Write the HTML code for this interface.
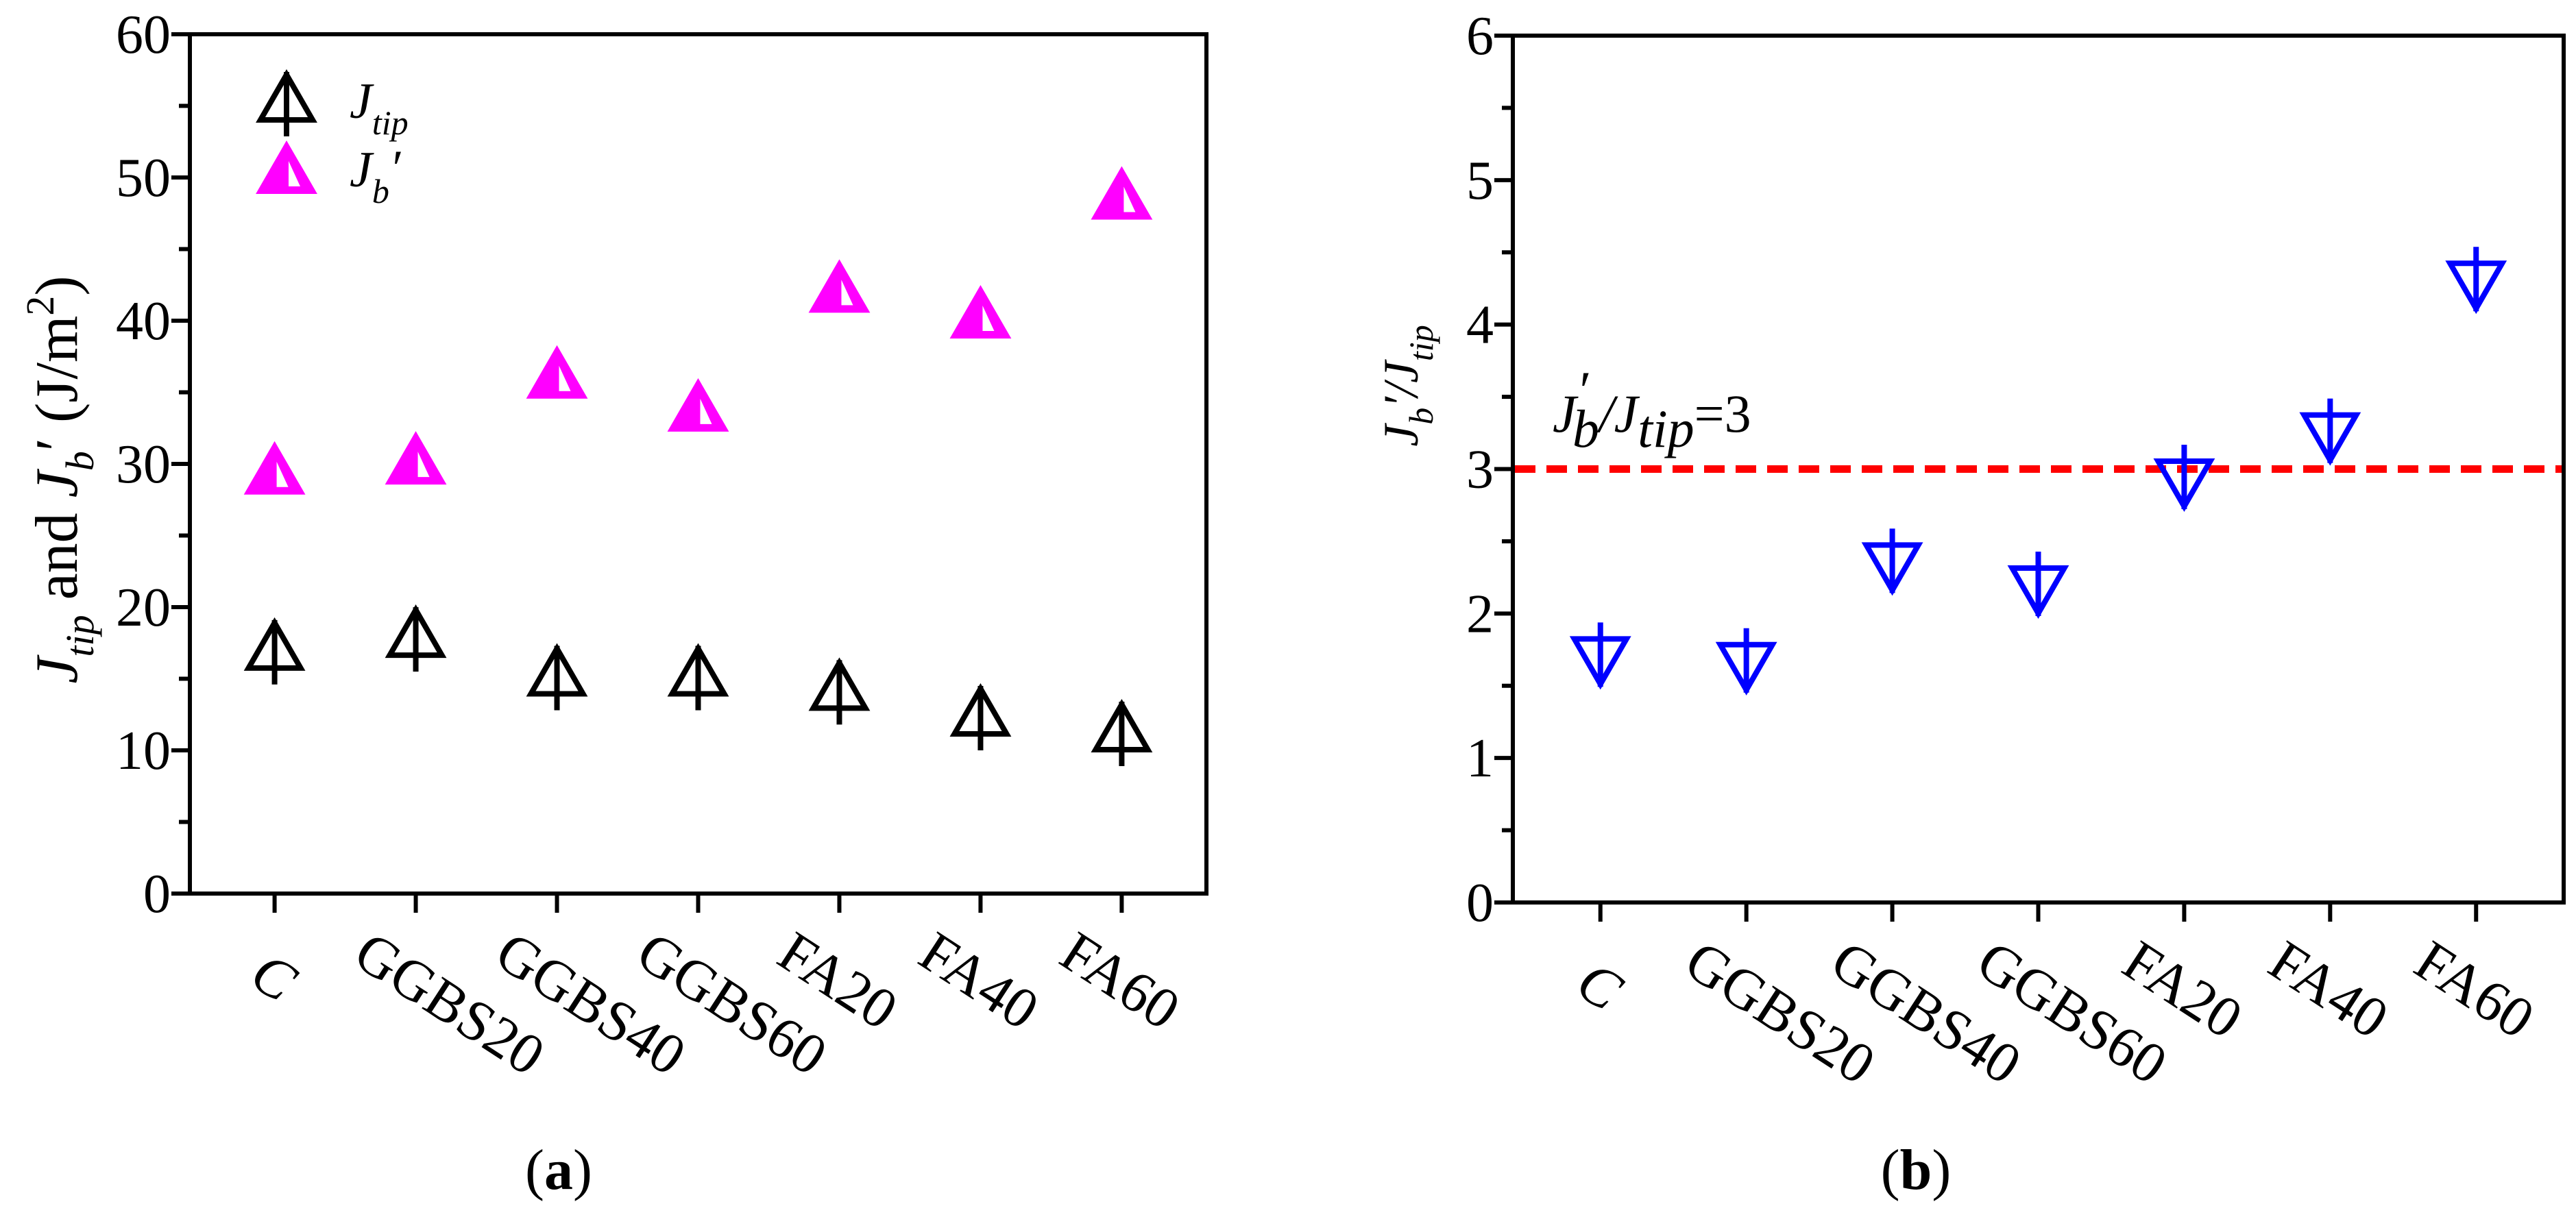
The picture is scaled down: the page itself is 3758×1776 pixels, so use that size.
<!DOCTYPE html>
<html><head><meta charset="utf-8"><style>
html,body{margin:0;padding:0;background:#fff;}
svg{display:block;}
svg text{font-family:"Liberation Serif","Times New Roman",serif;}
</style></head><body>
<svg id="fig" width="3758" height="1776" viewBox="0 0 3758 1776" xmlns="http://www.w3.org/2000/svg" font-family="Liberation Serif, serif"></svg>
<script>
const categories = ["C","GGBS20","GGBS40","GGBS60","FA20","FA40","FA60"];
const jtipValues = [16.8,17.7,15.0,15.0,14.0,12.2,11.1];
const jbValues = [29.1,29.8,35.8,33.5,41.8,40.0,48.3];
const ratioValues = [1.72,1.68,2.37,2.21,2.95,3.27,4.32];
const ticksA = [0,10,20,30,40,50,60];
const ticksB = [0,1,2,3,4,5,6];
const refLine = 3;

const NS="http://www.w3.org/2000/svg";
const svg=document.getElementById('fig');
function mk(tag,attrs,parent){const e=document.createElementNS(NS,tag);for(const k in attrs)e.setAttribute(k,attrs[k]);if(tag==='text')e.setAttribute('font-family','Liberation Serif, serif');(parent||svg).appendChild(e);return e;}

function panel(cfg){
  const g=mk('g',{});
  
  
  const {L,R,T,B,ymax,ticks}=cfg;
  const xs=i=>L+(i+1-0.4)/7.2*(R-L);
  const ys=v=>B-v/ymax*(B-T);
  const frame=mk('rect',{x:L,y:T,width:R-L,height:B-T,fill:'none',stroke:'#000','stroke-width':6},g);
  
  
  ticks.forEach(t=>{
    const y=ys(t);
    const tk=mk('line',{x1:L-27,x2:L,y1:y,y2:y,stroke:'#000','stroke-width':6},g);
    
    
    const tl=mk('text',{x:L-28,y:y+27,'font-size':80,'text-anchor':'end'},g);
    tl.textContent=t;
    
    
  });
  for(let k=0;k<ticks.length-1;k++){
    const v=(ticks[k]+ticks[k+1])/2;const y=ys(v);
    const mt=mk('line',{x1:L-16,x2:L,y1:y,y2:y,stroke:'#000','stroke-width':6},g);
    
    
  }
  categories.forEach((c,i)=>{
    const x=xs(i);
    const tk=mk('line',{x1:x,x2:x,y1:B,y2:B+28,stroke:'#000','stroke-width':6},g);
    
    
    const tx=c==='C'?x-40:x-95, ty=c==='C'?B+130:B+100;
    const tl=mk('text',{x:tx,y:ty,'font-size':84,transform:`rotate(33 ${tx} ${ty})`,'font-style':c==='C'?'italic':'normal'},g);
    tl.textContent=c;
    
    
  });
  return {g,xs,ys};
}

const MW=76,MH=66;
function upArrowTri(g,cx,cy,color,name){
  const top=cy-MH*2/3,bot=cy+MH/3;
  const p=mk('polygon',{points:`${cx},${top} ${cx-MW/2},${bot} ${cx+MW/2},${bot}`,fill:'none',stroke:color,'stroke-width':8},g);
  
  
  const l=mk('line',{x1:cx,x2:cx,y1:top-4,y2:bot+24,stroke:color,'stroke-width':8},g);
  
  
}
function halfTri(g,cx,cy,color,name){
  const top=cy-MH*2/3,bot=cy+MH/3;
  const p=mk('polygon',{points:`${cx},${top} ${cx-MW/2},${bot} ${cx+MW/2},${bot}`,fill:color,stroke:color,'stroke-width':8},g);
  
  
  const wh=mk('polygon',{points:`${cx+3},${top+22} ${cx+3},${bot-7} ${cx+20},${bot-7}`,fill:'#fff'},g);
  
  
}
function downArrowTri(g,cx,cy,color,name){
  const top=cy-MH/3,bot=cy+MH*2/3;
  const p=mk('polygon',{points:`${cx-MW/2},${top} ${cx+MW/2},${top} ${cx},${bot}`,fill:'none',stroke:color,'stroke-width':8},g);
  
  
  const l=mk('line',{x1:cx,x2:cx,y1:top-24,y2:bot+4,stroke:color,'stroke-width':8},g);
  
  
}

// Panel A
const A=panel({name:'panel-a',L:277,R:1760,T:50,B:1304,ymax:60,ticks:ticksA});
jbValues.forEach((v,i)=>halfTri(A.g,A.xs(i),A.ys(v),'#ff00ff','jb-point'));
jtipValues.forEach((v,i)=>upArrowTri(A.g,A.xs(i),A.ys(v),'#000','jtip-point'));
upArrowTri(A.g,418,153,'#000','legend-jtip-marker');
halfTri(A.g,418,257,'#ff00ff','legend-jb-marker');
let t=mk('text',{x:510,y:172,'font-size':74,'font-style':'italic'},A.g);
t.innerHTML='J<tspan font-size="50" dy="24">tip</tspan>';


t=mk('text',{x:510,y:272,'font-size':74,'font-style':'italic'},A.g);
t.innerHTML='J<tspan font-size="50" dy="24">b</tspan><tspan dy="-26">′</tspan>';


t=mk('text',{x:0,y:0,'font-size':88,'text-anchor':'middle',transform:'translate(112 700) rotate(-90)'},A.g);
t.innerHTML='<tspan font-style="italic">J</tspan><tspan font-size="58" font-style="italic" dy="24">tip</tspan><tspan dy="-24"> and </tspan><tspan font-style="italic">J</tspan><tspan font-size="58" font-style="italic" dy="24">b</tspan><tspan dy="-24">′  (J/m</tspan><tspan font-size="58" dy="-34">2</tspan><tspan dy="34">)</tspan>';


t=mk('text',{x:815,y:1735,'font-size':84,'text-anchor':'middle'});
t.innerHTML='(<tspan font-weight="bold">a</tspan>)';



// Panel B
const Bp=panel({name:'panel-b',L:2207,R:3740,T:52,B:1317,ymax:6,ticks:ticksB});
const ry=Bp.ys(refLine);
const dl=mk('line',{x1:2210,x2:3737,y1:ry,y2:ry,stroke:'#ff0000','stroke-width':11,'stroke-dasharray':'30 16'},Bp.g);


ratioValues.forEach((v,i)=>downArrowTri(Bp.g,Bp.xs(i),Bp.ys(v),'#0000ff','ratio-point'));
t=mk('text',{x:2265,y:630,'font-size':78,'font-style':'italic'},Bp.g);
t.innerHTML='J<tspan dy="-34">′</tspan><tspan dy="56" x="2294">b</tspan><tspan dy="-22">/J</tspan><tspan dy="22">tip</tspan><tspan dy="-22" font-style="normal">=3</tspan>';


t=mk('text',{x:0,y:0,'font-size':72,'font-style':'italic','text-anchor':'middle',transform:'translate(2068 563) rotate(-90)'},Bp.g);
t.innerHTML='J<tspan font-size="50" dy="22">b</tspan><tspan dy="-22">′/J</tspan><tspan font-size="50" dy="22">tip</tspan>';


t=mk('text',{x:2795,y:1735,'font-size':84,'text-anchor':'middle'});
t.innerHTML='(<tspan font-weight="bold">b</tspan>)';


</script>
</body></html>
